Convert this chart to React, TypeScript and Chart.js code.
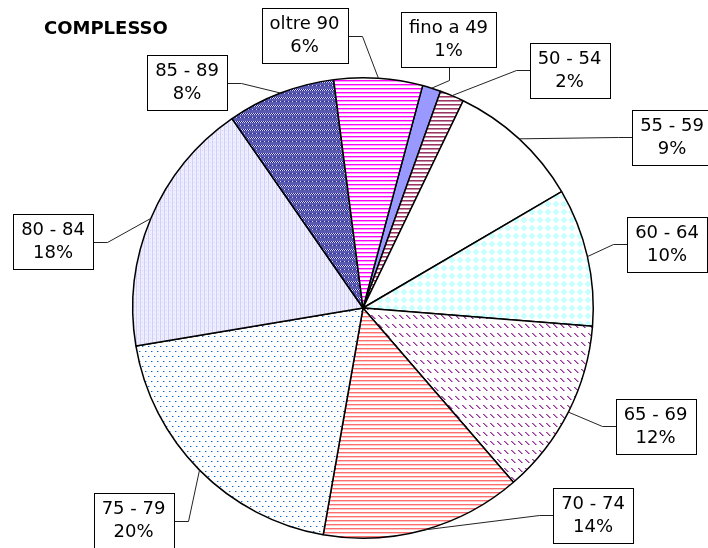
import React, { useEffect, useRef } from "react";
import { Chart, registerables } from "chart.js";

Chart.register(...registerables);

// ---- data ----
const categories = [
  "fino a 49",
  "50 - 54",
  "55 - 59",
  "60 - 64",
  "65 - 69",
  "70 - 74",
  "75 - 79",
  "80 - 84",
  "85 - 89",
  "oltre 90",
];
const shares = [1.3, 1.7, 9.4, 9.7, 12.4, 14.1, 19.6, 18.0, 7.6, 6.2];
const chartTitle = "COMPLESSO";

// ---- label box layout (centre of each box, side the leader leaves from) ----
type Side = "left" | "right" | "bottom";
const labelLayout: { cx: number; cy: number; side: Side }[] = [
  { cx: 448.5, cy: 39.5, side: "bottom" },
  { cx: 569.5, cy: 70, side: "left" },
  { cx: 672, cy: 137, side: "left" },
  { cx: 667, cy: 244, side: "left" },
  { cx: 655.5, cy: 426, side: "left" },
  { cx: 593, cy: 515, side: "left" },
  { cx: 133.5, cy: 520.5, side: "right" },
  { cx: 53, cy: 241.5, side: "right" },
  { cx: 187, cy: 82.5, side: "right" },
  { cx: 304.5, cy: 35.5, side: "right" },
];

function tile(w: number, h: number, paint: (put: (x: number, y: number, c: string) => void, ctx: CanvasRenderingContext2D) => void) {
  const c = document.createElement("canvas");
  c.width = w;
  c.height = h;
  const ctx = c.getContext("2d")!;
  const put = (x: number, y: number, col: string) => {
    ctx.fillStyle = col;
    ctx.fillRect(((x % w) + w) % w, ((y % h) + h) % h, 1, 1);
  };
  paint(put, ctx);
  const tmp = document.createElement("canvas").getContext("2d")!;
  return tmp.createPattern(c, "repeat")!;
}

function stripes(main: string, soft: string) {
  return tile(4, 4, (put, ctx) => {
    ctx.fillStyle = "#ffffff";
    ctx.fillRect(0, 0, 4, 4);
    for (let x = 0; x < 4; x++) {
      put(x, 0, main);
      put(x, 1, soft);
    }
  });
}

function makeFills(): (string | CanvasPattern)[] {
  const fino = "#9999FF";
  const p5054 = stripes("#993366", "#C890A8");
  const p5559 = "#FFFFFF";
  const p6064 = tile(8, 8, (put) => {
    for (let y = 0; y < 8; y++)
      for (let x = 0; x < 8; x++) {
        const d = Math.abs(x - 3.5) + Math.abs(y - 3.5);
        put(x, y, d <= 3.5 ? "#C8FFFF" : "#FFFFFF");
      }
  });
  const p6569 = tile(7, 9, (put, ctx) => {
    ctx.fillStyle = "#ffffff";
    ctx.fillRect(0, 0, 7, 9);
    for (let i = 0; i < 4; i++) {
      put(i, i, "#993399");
      put(i + 1, i, "#C58ACB");
    }
  });
  const p7074 = stripes("#FF6E6E", "#FFC4C4");
  const p7579 = tile(6, 10, (put, ctx) => {
    ctx.fillStyle = "#ffffff";
    ctx.fillRect(0, 0, 6, 10);
    put(1, 1, "#0A64CC");
    put(2, 1, "#9CC0EC");
    put(4, 6, "#0A64CC");
    put(5, 6, "#9CC0EC");
  });
  const p8084 = tile(4, 4, (put, ctx) => {
    ctx.fillStyle = "#EEEEFF";
    ctx.fillRect(0, 0, 4, 4);
    for (let y = 0; y < 4; y++) put(0, y, "#CFCFFA");
    put(2, 2, "#D6D6FC");
  });
  const p8589 = tile(8, 8, (put, ctx) => {
    ctx.fillStyle = "#5A5AB0";
    ctx.fillRect(0, 0, 8, 8);
    for (let x = 0; x < 8; x++) {
      put(x, 1, x % 2 === 0 ? "#1E1E90" : "#D8D8F6");
      put(x, 2, x % 2 === 1 ? "#1E1E90" : "#D8D8F6");
      put(x, 5, x % 4 === 0 ? "#D8D8F6" : "#3C3C9E");
    }
  });
  const p90 = stripes("#FF00FF", "#FF9CFF");
  return [fino, p5054, p5559, p6064, p6569, p7074, p7579, p8084, p8589, p90];
}

const labelPlugin = {
  id: "excelLabels",
  afterDraw(chart: any) {
    const ctx: CanvasRenderingContext2D = chart.ctx;
    const meta = chart.getDatasetMeta(0);
    const data: number[] = chart.data.datasets[0].data;
    const total = data.reduce((a, b) => a + b, 0);
    ctx.save();
    // title
    ctx.font = "bold 18px 'DejaVu Sans', Verdana, sans-serif";
    ctx.fillStyle = "#000";
    ctx.textAlign = "left";
    ctx.textBaseline = "alphabetic";
    ctx.fillText(chartTitle, 44, 34);

    ctx.font = "18px 'DejaVu Sans', Verdana, sans-serif";
    meta.data.forEach((arc: any, i: number) => {
      const lay = labelLayout[i];
      if (!lay) return;
      const mid = (arc.startAngle + arc.endAngle) / 2;
      const ax = arc.x + Math.cos(mid) * arc.outerRadius;
      const ay = arc.y + Math.sin(mid) * arc.outerRadius;
      const l1 = String(chart.data.labels[i]);
      const l2 = Math.round((data[i] / total) * 100) + "%";
      const tw = Math.max(ctx.measureText(l1).width, ctx.measureText(l2).width);
      const bw = Math.round(tw + 16);
      const bh = 55;
      const bx = Math.round(lay.cx - bw / 2) + 0.5;
      const by = Math.round(lay.cy - bh / 2) + 0.5;

      // leader
      let sx = 0, sy = 0, kx = 0, ky = 0;
      if (lay.side === "left") {
        sx = bx; sy = Math.round(lay.cy) + 0.5; kx = sx - 14; ky = sy;
      } else if (lay.side === "right") {
        sx = bx + bw; sy = Math.round(lay.cy) + 0.5; kx = sx + 14; ky = sy;
      } else {
        sx = Math.round(lay.cx) + 0.5; sy = by + bh; kx = sx; ky = sy + 13;
      }
      ctx.strokeStyle = "#222";
      ctx.lineWidth = 1;
      ctx.beginPath();
      ctx.moveTo(sx, sy);
      ctx.lineTo(kx, ky);
      ctx.lineTo(ax, ay);
      ctx.stroke();

      // box
      ctx.fillStyle = "#fff";
      ctx.fillRect(bx, by, bw, bh);
      ctx.strokeStyle = "#000";
      ctx.strokeRect(bx, by, bw, bh);
      ctx.fillStyle = "#000";
      ctx.textAlign = "center";
      ctx.textBaseline = "middle";
      ctx.fillText(l1, lay.cx, lay.cy - 11);
      ctx.fillText(l2, lay.cx, lay.cy + 12);
    });
    ctx.restore();
  },
};

export default function App() {
  const ref = useRef<HTMLCanvasElement | null>(null);
  useEffect(() => {
    if (!ref.current) return;
    const chart = new Chart(ref.current, {
      type: "pie",
      data: {
        labels: categories,
        datasets: [
          {
            data: shares,
            backgroundColor: makeFills() as any,
            borderColor: "#000000",
            borderWidth: 1.5,
          },
        ],
      },
      options: {
        responsive: false,
        animation: false,
        events: [],
        rotation: 15,
        layout: { padding: { top: 77, bottom: 9, left: 132, right: 114 } },
        plugins: {
          legend: { display: false },
          tooltip: { enabled: false },
          title: { display: false },
        },
      },
      plugins: [labelPlugin],
    });
    return () => chart.destroy();
  }, []);
  return (
    <div style={{ position: "fixed", left: 0, top: 0, width: 708, height: 548, background: "#fff" }}>
      <canvas ref={ref} width={708} height={548} style={{ width: 708, height: 548 }} />
    </div>
  );
}
